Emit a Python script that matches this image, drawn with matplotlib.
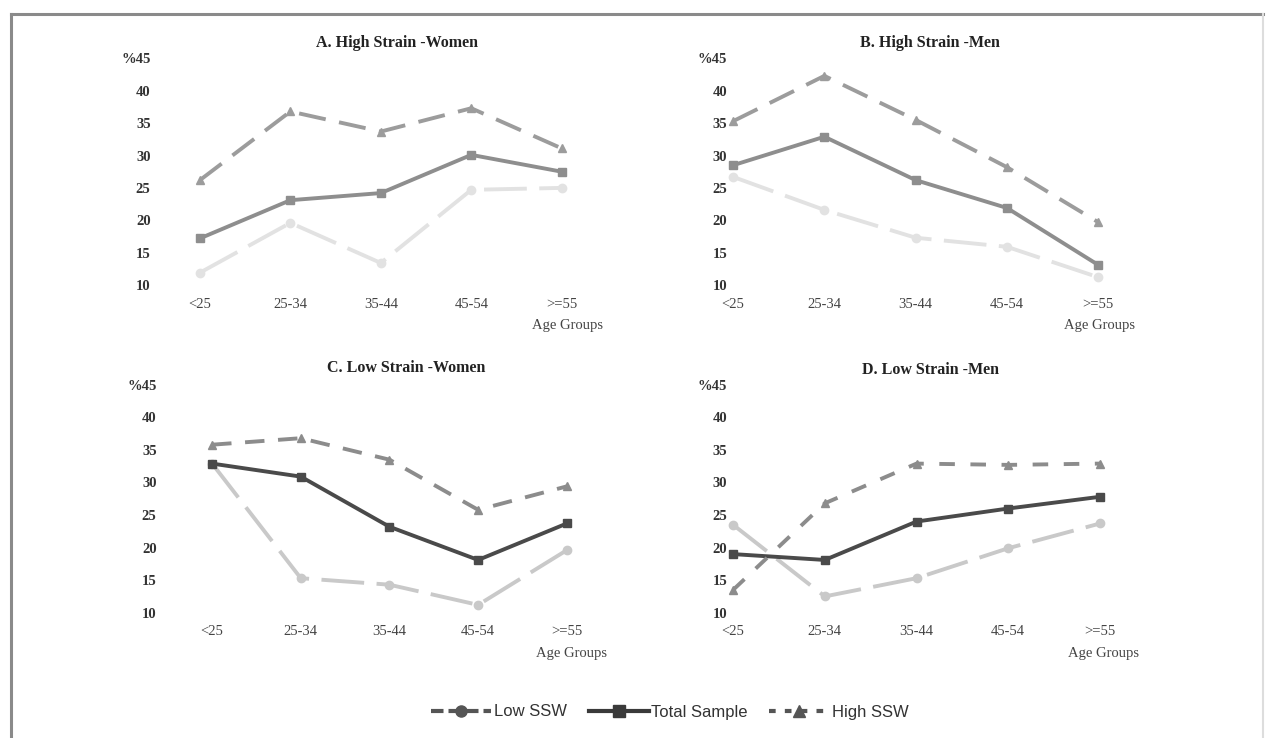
import matplotlib
matplotlib.use("Agg")
import matplotlib.pyplot as plt
from matplotlib.lines import Line2D

# Age groups on the x axis
age_groups = ["<25", "25-34", "35-44", "45-54", ">=55"]
y_ticks = [10, 15, 20, 25, 30, 35, 40, 45]
y_tick_labels = ["10", "15", "20", "25", "30", "35", "40", "%45"]

panel_titles = ["A. High Strain -Women", "B. High Strain -Men",
                "C. Low Strain -Women", "D. Low Strain -Men"]

# Percentages per panel: Low SSW, Total sample, High SSW
low_ssw_a = [11.9, 19.6, 13.4, 24.7, 25.0]
total_a = [17.2, 23.1, 24.2, 30.1, 27.5]
high_ssw_a = [26.2, 36.8, 33.7, 37.3, 31.1]

low_ssw_b = [26.7, 21.6, 17.3, 15.9, 11.2]
total_b = [28.5, 32.9, 26.2, 21.9, 13.1]
high_ssw_b = [35.3, 42.3, 35.5, 28.2, 19.7]

low_ssw_c = [32.9, 15.3, 14.3, 11.2, 19.6]
total_c = [32.9, 30.9, 23.2, 18.1, 23.7]
high_ssw_c = [35.8, 36.8, 33.5, 25.8, 29.4]

low_ssw_d = [23.5, 12.5, 15.3, 19.9, 23.7]
total_d = [19.0, 18.1, 24.0, 26.0, 27.8]
high_ssw_d = [13.5, 26.8, 32.9, 32.7, 32.9]

series_names = ["Low SSW", "Total Sample", "High SSW"]

W, H = 1266, 738
fig = plt.figure(figsize=(W / 100, H / 100), dpi=100)
fig.patch.set_facecolor("white")

serif = ["Liberation Serif", "DejaVu Serif"]


def px_rect(left, right, bottom, top):
    return [left / W, 1 - bottom / H, (right - left) / W, (bottom - top) / H]


# Axes rectangles in pixel units: (left, right, bottom, top) plus x-limits
layout = [
    dict(rect=px_rect(152, 616, 285, 58.4), xlim=(-0.53, 4.6), title=(397, 43),
         agelab=(567, 325), colors=("#e2e2e2", "#8e8e8e", "#9c9c9c"),
         high_dash=(7, 3.5)),
    dict(rect=px_rect(728.5, 1153, 285, 58.4), xlim=(-0.05, 4.6), title=(930, 43),
         agelab=(1100, 325), colors=("#e2e2e2", "#8e8e8e", "#9c9c9c"),
         high_dash=(7, 3.5)),
    dict(rect=px_rect(158, 620, 612.7, 384.8), xlim=(-0.61, 4.6), title=(406, 368),
         agelab=(572, 653), colors=("#c9c9c9", "#4a4a4a", "#8c8c8c"),
         high_dash=(5, 3.5)),
    dict(rect=px_rect(728.5, 1155, 612.7, 384.8), xlim=(-0.05, 4.6), title=(931, 370),
         agelab=(1103, 654), colors=("#c9c9c9", "#4a4a4a", "#8c8c8c"),
         high_dash=(4, 4)),
]

panel_data = [
    (low_ssw_a, total_a, high_ssw_a),
    (low_ssw_b, total_b, high_ssw_b),
    (low_ssw_c, total_c, high_ssw_c),
    (low_ssw_d, total_d, high_ssw_d),
]

markers = ["o", "s", "^"]
low_dash = (11, 3.2)

x = list(range(len(age_groups)))

for spec, data, title in zip(layout, panel_data, panel_titles):
    ax = fig.add_axes(spec["rect"])
    ax.set_facecolor("none")
    dash_set = [low_dash, None, spec["high_dash"]]
    for values, marker, dashes, color in zip(data, markers, dash_set, spec["colors"]):
        kw = dict(color=color, linewidth=2.8, marker=marker,
                  markersize=6, markerfacecolor=color, markeredgecolor=color,
                  clip_on=False, solid_capstyle="round")
        if dashes is not None:
            kw["dashes"] = dashes
        ax.plot(x, values, **kw)
    ax.set_xlim(*spec["xlim"])
    ax.set_ylim(10, 45)
    ax.set_xticks(x)
    ax.set_xticklabels(age_groups, family=serif, fontsize=10.5, color="#444444")
    ax.set_yticks(y_ticks)
    ax.set_yticklabels(y_tick_labels, family=serif, fontsize=10.5,
                       color="#333333", fontweight="bold")
    ax.tick_params(axis="both", length=0)
    ax.tick_params(axis="x", pad=9)
    ax.tick_params(axis="y", pad=1)
    for s in ax.spines.values():
        s.set_visible(False)
    tx, ty = spec["title"]
    fig.text(tx / W, 1 - ty / H, title, ha="center", va="center",
             family=serif, fontsize=11.5, fontweight="bold", color="#222222")
    ax_, ay_ = spec["agelab"]
    fig.text(ax_ / W, 1 - ay_ / H, "Age Groups", ha="center", va="center",
             family=serif, fontsize=10.5, color="#444444")

# Shared legend along the bottom
legend_colors = ("#555555", "#3a3a3a", "#555555")
legend_dashes = [(3, 1.2), None, (1.6, 2.2)]
handles = []
for marker, dashes, color in zip(markers, legend_dashes, legend_colors):
    kw = dict(color=color, linewidth=3, marker=marker, markersize=8,
              markerfacecolor=color, markeredgecolor=color)
    if dashes is not None:
        kw["dashes"] = dashes
    handles.append(Line2D([0], [0], **kw))
fig.legend(handles, series_names, loc="center", ncol=3,
           bbox_to_anchor=(670 / W, 1 - 712 / H), frameon=False,
           prop=dict(family=["Liberation Sans", "DejaVu Sans"], size=12),
           handlelength=3.6, handletextpad=0.15, columnspacing=1.3,
           labelcolor="#333333")

# Frame around the figure
frame_kw = dict(color="#8a8a8a", linewidth=2.2, transform=fig.transFigure)
fig.add_artist(Line2D([11 / W, 11 / W], [0, 1 - 14 / H], **frame_kw))
fig.add_artist(Line2D([11 / W, 1263 / W], [1 - 14 / H, 1 - 14 / H], **frame_kw))
fig.add_artist(Line2D([1263 / W, 1263 / W], [0, 1 - 14 / H],
                      color="#dddddd", linewidth=1.5, transform=fig.transFigure))

fig.savefig("out.png", dpi=100, facecolor="white")
